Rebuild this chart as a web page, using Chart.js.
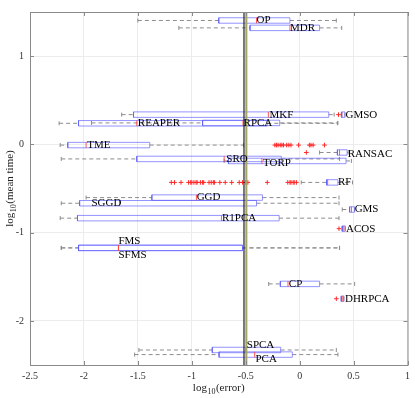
<!DOCTYPE html>
<html>
<head>
<meta charset="utf-8">
<script src="https://cdn.jsdelivr.net/npm/chart.js@4.4.0/dist/chart.umd.min.js"></script>
<style>
html, body { margin:0; padding:0; background:#fff; }
canvas { display:block; }
</style>
</head>
<body>
<canvas id="errTimeChart" width="415" height="398"></canvas>
<script>
// =============================
// DATA (log10 units)
// =============================
const methods     = ['OP','MDR','MKF','GMSO','REAPER','RPCA','TME','RANSAC','SRO','TORP','RF','GGD','SGGD','GMS','R1PCA','ACOS','FMS','SFMS','CP','DHRPCA','SPCA','PCA'];
const meanTime    = [1.404, 1.32, 0.337, 0.337, 0.239, 0.243, -0.008, -0.092, -0.165, -0.188, -0.431, -0.603, -0.667, -0.738, -0.836, -0.955, -1.173, -1.173, -1.581, -1.749, -2.33, -2.382];
const whiskerLow  = [-1.50, -1.12, -1.65, 0.385, -2.23, -1.93, -2.22, 0.185, -2.21, -0.70, 0.015, -1.98, -2.21, 0.395, -2.22, 0.395, -2.21, -2.21, -0.287, 0.386, -1.49, -1.53];
const q1          = [-0.75, -0.46, -1.54, 0.39, -2.05, -0.90, -2.15, 0.35, -1.51, -0.66, 0.25, -1.37, -2.04, 0.463, -2.06, 0.395, -2.05, -2.05, -0.179, 0.386, -0.81, -0.747];
const medians     = [-0.40, -0.09, -0.29, 0.39, -1.51, -0.525, -1.98, 0.37, -0.70, -0.35, 0.26, -0.957, -1.67, 0.48, -0.725, 0.41, -1.68, -1.68, -0.108, 0.40, -0.50, -0.417];
const q3          = [-0.09, 0.185, 0.27, 0.42, -0.30, -0.185, -1.39, 0.44, -0.17, 0.43, 0.355, -0.345, -0.40, 0.51, -0.19, 0.423, -0.53, -0.53, 0.185, 0.41, -0.176, -0.068];
const whiskerHigh = [0.34, 0.39, 0.32, 0.42, 0.35, 0.355, -0.52, 0.45, 0.37, 0.48, 0.49, 0.365, 0.365, 0.51, 0.365, 0.423, 0.37, 0.37, 0.51, 0.41, 0.34, 0.355];
const outliers = [
    [], [], [], [0.36], [], [],
    [-0.23, -0.215, -0.2, -0.18, -0.165, -0.15, -0.12, -0.10, -0.08, -0.01, 0.09, 0.105, 0.125, 0.23],
    [0.062], [], [],
    [-1.19, -1.16, -1.10, -1.03, -1.01, -1.00, -0.98, -0.96, -0.95, -0.92, -0.90, -0.89, -0.84, -0.82, -0.80, -0.79, -0.74, -0.69, -0.63, -0.56, -0.53, -0.50, -0.48, -0.30, -0.11, -0.09, -0.08, -0.06, -0.05, -0.03],
    [], [], [], [], [0.365], [], [], [], [0.34], [], []
];
const labelX   = [-0.40, -0.09, -0.28, 0.425, -1.50, -0.52, -1.97, 0.445, -0.68, -0.34, 0.355, -0.955, -1.93, 0.51, -0.72, 0.43, -1.68, -1.68, -0.10, 0.42, -0.49, -0.41];
const xTicks   = [-2.5, -2, -1.5, -1, -0.5, 0, 0.5, 1];
const yTicks   = [-2, -1, 0, 1];
const refLines = [-0.516, -0.494];

// =============================
// STYLE
// =============================
const SERIF = '"Liberation Serif", "DejaVu Serif", serif';
const BOX_H = 0.031;
const BOX_COLOR = 'rgba(90,90,255,0.65)';
const WHISKER_COLOR = '#8c8c8c';
const RED = '#ff2a2a';
const labelShift = { FMS:-7, SFMS:7, SPCA:-5, PCA:5, TORP:2, RANSAC:2 };

// =============================
// DATASETS
// =============================
const datasets = [];

datasets.push({
    data: [{x: refLines[0], y: -2.5}, {x: refLines[0], y: 1.5}],
    showLine: true, borderColor: '#222', borderWidth: 1.2, pointRadius: 0, order: 1
});
datasets.push({
    data: [{x: refLines[1], y: -2.5}, {x: refLines[1], y: 1.5}],
    showLine: true, borderColor: 'rgb(165,165,105)', borderWidth: 2, pointRadius: 0, order: 1
});

methods.forEach((m, i) => {
    const y = meanTime[i];
    // whiskers
    datasets.push({
        data: [{x: whiskerLow[i], y}, {x: q1[i], y}],
        showLine: true, borderColor: WHISKER_COLOR, borderWidth: 1, borderDash: [4, 3],
        pointStyle: 'line', rotation: 90, pointRadius: [2, 0],
        pointBorderColor: WHISKER_COLOR, pointBorderWidth: 1, order: 4
    });
    datasets.push({
        data: [{x: q3[i], y}, {x: whiskerHigh[i], y}],
        showLine: true, borderColor: WHISKER_COLOR, borderWidth: 1, borderDash: [4, 3],
        pointStyle: 'line', rotation: 90, pointRadius: [0, 2],
        pointBorderColor: WHISKER_COLOR, pointBorderWidth: 1, order: 4
    });
    // box
    datasets.push({
        data: [
            {x: q1[i], y: y - BOX_H}, {x: q3[i], y: y - BOX_H},
            {x: q3[i], y: y + BOX_H}, {x: q1[i], y: y + BOX_H},
            {x: q1[i], y: y - BOX_H}
        ],
        showLine: true, borderColor: BOX_COLOR, borderWidth: 1, pointRadius: 0, order: 3
    });
    // median
    datasets.push({
        data: [{x: medians[i], y}],
        pointStyle: 'line', rotation: 90, pointRadius: 2.8,
        pointBorderColor: 'rgba(255,60,60,0.85)', pointBorderWidth: 1, order: 2
    });
    // outliers
    if (outliers[i].length) {
        datasets.push({
            data: outliers[i].map(v => ({x: v, y})),
            pointStyle: 'cross', pointRadius: 2.3,
            pointBorderColor: RED, pointBorderWidth: 1, order: 2
        });
    }
});

// =============================
// PLUGIN: labels, frame, inner ticks, axis titles
// =============================
const decorations = {
    id: 'decorations',
    afterDatasetsDraw(chart) {
        const {ctx, scales: {x, y}} = chart;
        ctx.save();
        ctx.fillStyle = '#000';
        ctx.font = '11px ' + SERIF;
        ctx.textAlign = 'left';
        ctx.textBaseline = 'middle';
        methods.forEach((m, i) => {
            const px = x.getPixelForValue(labelX[i]);
            const py = y.getPixelForValue(meanTime[i]) + (labelShift[m] || 0);
            ctx.fillText(m, px, py);
        });
        ctx.restore();
    },
    afterDraw(chart) {
        const {ctx, chartArea: a, scales: {x, y}} = chart;
        ctx.save();
        // frame
        ctx.strokeStyle = '#8a8a8a';
        ctx.lineWidth = 1;
        ctx.strokeRect(a.left + 0.5, a.top + 0.5, a.right - a.left, a.bottom - a.top);
        // inner tick marks
        ctx.beginPath();
        xTicks.forEach(v => {
            const px = Math.round(x.getPixelForValue(v)) + 0.5;
            ctx.moveTo(px, a.bottom); ctx.lineTo(px, a.bottom - 4);
            ctx.moveTo(px, a.top); ctx.lineTo(px, a.top + 4);
        });
        yTicks.forEach(v => {
            const py = Math.round(y.getPixelForValue(v)) + 0.5;
            ctx.moveTo(a.left, py); ctx.lineTo(a.left + 4, py);
            ctx.moveTo(a.right, py); ctx.lineTo(a.right - 4, py);
        });
        ctx.stroke();

        // axis titles with subscript 10
        const big = '11px ' + SERIF, small = '8px ' + SERIF;
        function title(after) {
            ctx.font = big;  const w1 = ctx.measureText('log').width;
            const w3 = ctx.measureText(after).width;
            ctx.font = small; const w2 = ctx.measureText('10').width;
            return {w1, w2, w3, total: w1 + w2 + w3 + 1};
        }
        ctx.fillStyle = '#222';
        ctx.textBaseline = 'alphabetic';
        ctx.textAlign = 'left';

        let t = title('(error)');
        let sx = (a.left + a.right) / 2 - t.total / 2, by = 391;
        ctx.font = big;   ctx.fillText('log', sx, by);
        ctx.font = small; ctx.fillText('10', sx + t.w1 + 0.5, by + 3);
        ctx.font = big;   ctx.fillText('(error)', sx + t.w1 + t.w2 + 1, by);

        t = title('(mean time)');
        ctx.translate(13, (a.top + a.bottom) / 2);
        ctx.rotate(-Math.PI / 2);
        sx = -t.total / 2;
        ctx.font = big;   ctx.fillText('log', sx, 0);
        ctx.font = small; ctx.fillText('10', sx + t.w1 + 0.5, 3);
        ctx.font = big;   ctx.fillText('(mean time)', sx + t.w1 + t.w2 + 1, 0);
        ctx.restore();
    }
};

// =============================
// CHART
// =============================
new Chart(document.getElementById('errTimeChart'), {
    type: 'scatter',
    data: { datasets },
    options: {
        responsive: false,
        animation: false,
        events: [],
        devicePixelRatio: 1,
        layout: { padding: { top: 9, right: 7, left: 0, bottom: 0 } },
        plugins: { legend: { display: false }, tooltip: { enabled: false } },
        elements: { line: { tension: 0 } },
        scales: {
            x: {
                type: 'linear', min: -2.5, max: 1,
                afterBuildTicks: s => { s.ticks = xTicks.map(v => ({value: v})); },
                afterFit: s => { s.height = 33; },
                grid: { color: '#ececec', drawTicks: false },
                border: { color: '#8a8a8a' },
                ticks: { padding: 5, color: '#333', maxRotation: 0, font: { family: SERIF, size: 10 }, callback: v => String(v) }
            },
            y: {
                type: 'linear', min: -2.5, max: 1.5,
                afterBuildTicks: s => { s.ticks = yTicks.map(v => ({value: v})); },
                afterFit: s => { s.width = 30; },
                grid: { color: '#ececec', drawTicks: false },
                border: { color: '#8a8a8a' },
                ticks: { padding: 6, color: '#333', font: { family: SERIF, size: 10 }, callback: v => String(v) }
            }
        }
    },
    plugins: [decorations]
});
</script>
</body>
</html>
